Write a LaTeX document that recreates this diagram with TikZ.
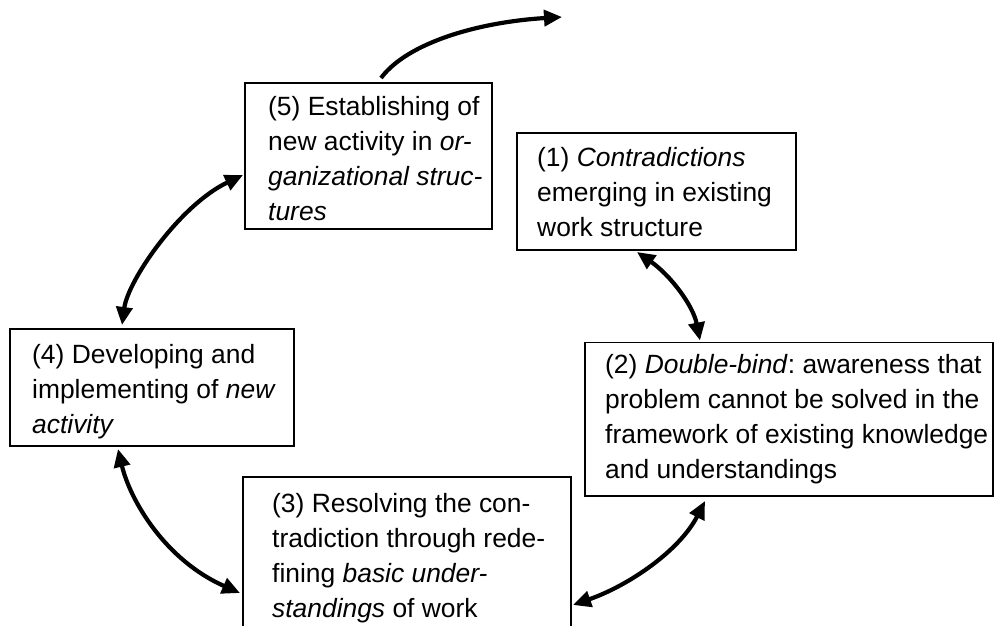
\documentclass[tikz,border=0pt]{standalone}
\usepackage{fontspec}
\setmainfont{Liberation Sans}
\usetikzlibrary{arrows.meta,calc}
\frenchspacing
\begin{document}
\begin{tikzpicture}[x=1pt,y=-1pt,
  boxst/.style={draw=black, line width=1.8pt, inner sep=0pt, outer sep=0pt, rectangle},
  txt/.style={inner sep=0pt, anchor=base west, font=\fontsize{26.4}{35.3}\selectfont},
  tip/.tip={Triangle[length=18pt,width=16pt]},
  link/.style={line width=4.2pt, tip-tip},
  oneway/.style={line width=4.2pt, -tip}]
\useasboundingbox (0,0) rectangle (994,626);
\clip (0,0) rectangle (994,626);
\fill[white] (0,0) rectangle (994,626);

% boxes
\node[boxst, minimum width=247pt, minimum height=146pt] (b5) at (368.5,156) {};
\node[boxst, minimum width=279pt, minimum height=117pt] (b1) at (656.5,191.5) {};
\node[boxst, minimum width=284pt, minimum height=117pt] (b4) at (152,387.5) {};
\node[boxst, minimum width=408pt, minimum height=153.5pt] (b2) at (789,419.25) {};
\node[boxst, minimum width=328pt, minimum height=183pt] (b3) at (407,568.5) {};

% texts
\node[txt] (t5) at (268,115) {\vtop{\hbox{(5) Establishing of}\hbox{new activity in \textit{or-}}\hbox{\textit{ganizational struc-}}\hbox{\textit{tures}}}};
\node[txt] (t1) at (537,166) {\vtop{\hbox{(1) \textit{Contradictions}}\hbox{emerging in existing}\hbox{work structure}}};
\node[txt] (t4) at (32,363) {\vtop{\hbox{(4) Developing and}\hbox{implementing of \textit{new}}\hbox{\textit{activity}}}};
\node[txt] (t2) at (605,373) {\vtop{\hbox{(2) \textit{Double-bind}: awareness that}\hbox{problem cannot be solved in the}\hbox{framework of existing knowledge}\hbox{and understandings}}};
\node[txt] (t3) at (272,512) {\vtop{\hbox{(3) Resolving the con-}\hbox{tradiction through rede-}\hbox{fining \textit{basic under-}}\hbox{\textit{standings} of work}}};

% connectors
\coordinate (out) at (562,17);
\draw[oneway] ($(b5.north west)+(136,-5)$) .. controls (408,42) and (480,22) .. (out);
\draw[link] ($(b1.south west)+(120,2)$) .. controls (670,275) and (693,305) .. ($(b2.north west)+(115,-2)$);
\draw[link] ($(b4.north west)+(112,-4)$) .. controls (128,280) and (180,205) .. ($(b5.south west)+(-2,-54)$);
\draw[link] ($(b4.south west)+(108,3)$) .. controls (130,500) and (165,560) .. ($(b3.north west)+(-3,116)$);
\draw[link] ($(b3.north east)+(2,128)$) .. controls (630,585) and (680,550) .. ($(b2.south west)+(120,5)$);
\end{tikzpicture}
\end{document}
